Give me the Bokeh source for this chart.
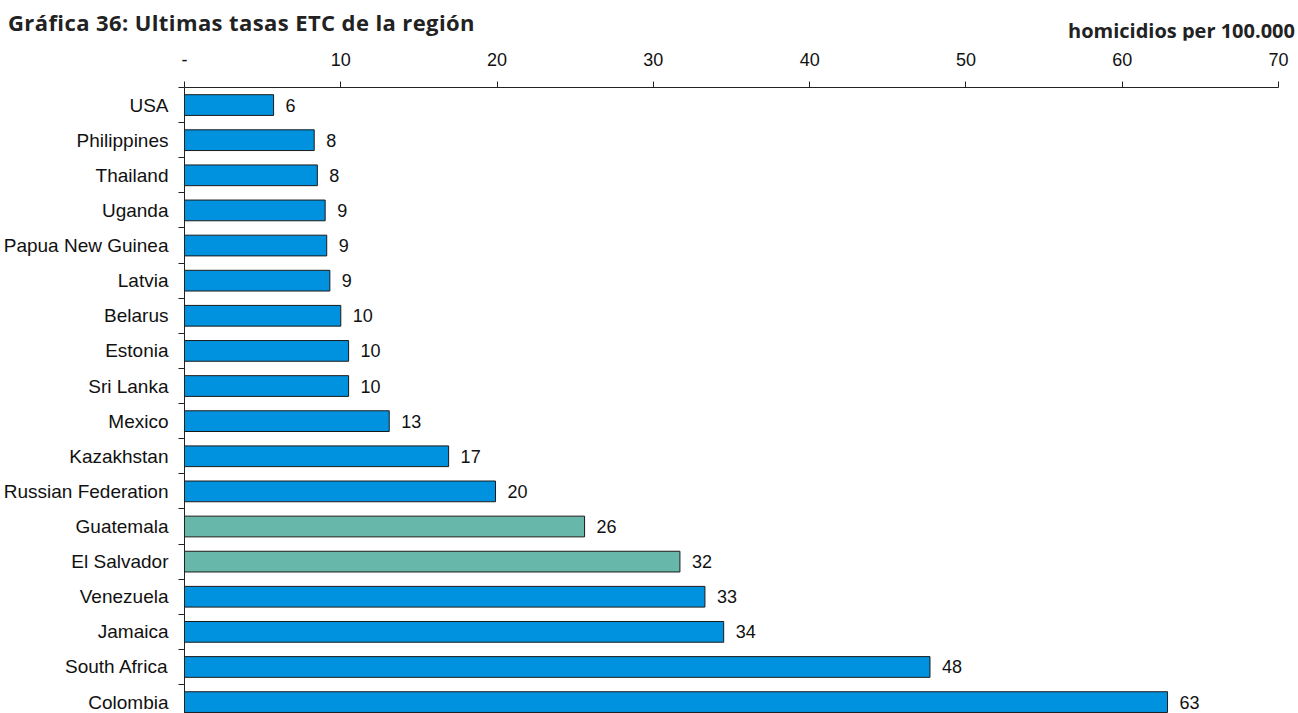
from bokeh.plotting import figure
from bokeh.layouts import column
from bokeh.models import ColumnDataSource, Range1d, LinearAxis, FixedTicker, Div
from bokeh.core.properties import value
from bokeh.embed import file_html
from bokeh.resources import INLINE

countries = ["USA", "Philippines", "Thailand", "Uganda", "Papua New Guinea", "Latvia",
             "Belarus", "Estonia", "Sri Lanka", "Mexico", "Kazakhstan", "Russian Federation",
             "Guatemala", "El Salvador", "Venezuela", "Jamaica", "South Africa", "Colombia"]
rates = [5.7, 8.3, 8.5, 9.0, 9.1, 9.3, 10.0, 10.5, 10.5, 13.1, 16.9, 19.9,
         25.6, 31.7, 33.3, 34.5, 47.7, 62.9]
labels = ["6", "8", "8", "9", "9", "9", "10", "10", "10", "13", "17", "20",
          "26", "32", "33", "34", "48", "63"]
highlight = ["Guatemala", "El Salvador"]
x_ticks = [0, 10, 20, 30, 40, 50, 60, 70]
x_tick_labels = ["-", "10", "20", "30", "40", "50", "60", "70"]
title_text = "Gráfica 36: Ultimas tasas ETC de la región"
unit_text = "homicidios per 100.000"

BLUE = "#0092DE"
GREEN = "#67B7AA"
FONT = "Liberation Sans"
TFONT = "Open Sans"
W = 1298
H = 713
TOP_H = 40
BAND = 35.12          # pixel height of one category band
FRAME_H = 626

# ---- header (title + unit) ----
head = Div(
    text=(
        f'<div style="position:relative;width:{W}px;height:{TOP_H}px;'
        f'font-family:\'{TFONT}\';font-weight:bold;color:#222222;">'
        f'<span style="position:absolute;left:8px;top:9px;font-size:22px;line-height:26px;'
        f'letter-spacing:0.4px;white-space:nowrap;">{title_text}</span>'
        f'<span style="position:absolute;right:3px;top:18px;font-size:20px;line-height:26px;'
        f'white-space:nowrap;">{unit_text}</span></div>'
    ),
    width=W, height=TOP_H, margin=0,
)

# ---- main chart ----
n = len(countries)
pos = [i + 0.5 for i in range(n)]
colors = [GREEN if c in highlight else BLUE for c in countries]
src = ColumnDataSource(dict(y=pos, r=rates, lab=labels, color=colors, name=countries))

p = figure(width=W, height=H - TOP_H, output_backend="svg", toolbar_location=None,
           x_range=Range1d(0, 70), y_range=Range1d(FRAME_H / BAND, 0),
           x_axis_location=None, y_axis_location=None,
           min_border_left=183, min_border_top=87 - TOP_H, min_border_right=21,
           min_border_bottom=0, frame_width=1094, frame_height=FRAME_H, margin=0)
p.outline_line_color = None
p.xgrid.visible = False
p.ygrid.visible = False

p.hbar(y="y", left=0, right="r", height=0.59, source=src, fill_color="color",
       line_color="#1a1a1a", line_width=1)

p.text(x="r", y="y", text="lab", source=src, x_offset=12, text_align="left",
       text_baseline="middle", text_font=value(FONT), text_font_size="18px",
       text_color="#111111")

xax = LinearAxis(ticker=FixedTicker(ticks=x_ticks),
                 major_label_overrides={t: l for t, l in zip(x_ticks, x_tick_labels)})
xax.major_tick_in = 0
xax.major_tick_out = 6
xax.minor_tick_line_color = None
xax.axis_line_color = "#222222"
xax.major_tick_line_color = "#222222"
xax.major_label_text_font = FONT
xax.major_label_text_font_size = "18px"
xax.major_label_text_color = "#111111"
xax.major_label_standoff = 16
p.add_layout(xax, "above")

yax = LinearAxis(ticker=FixedTicker(ticks=pos, minor_ticks=list(range(0, n + 1))),
                 major_label_overrides={pp: c for pp, c in zip(pos, countries)})
yax.major_tick_in = 0
yax.major_tick_out = 0
yax.minor_tick_in = 0
yax.minor_tick_out = 6
yax.axis_line_color = "#222222"
yax.minor_tick_line_color = "#222222"
yax.major_label_text_font = FONT
yax.major_label_text_font_size = "19px"
yax.major_label_text_color = "#111111"
yax.major_label_standoff = 10
p.add_layout(yax, "left")

layout = column(head, p, spacing=0, margin=0)
open("out.html", "w").write(file_html(layout, INLINE))
